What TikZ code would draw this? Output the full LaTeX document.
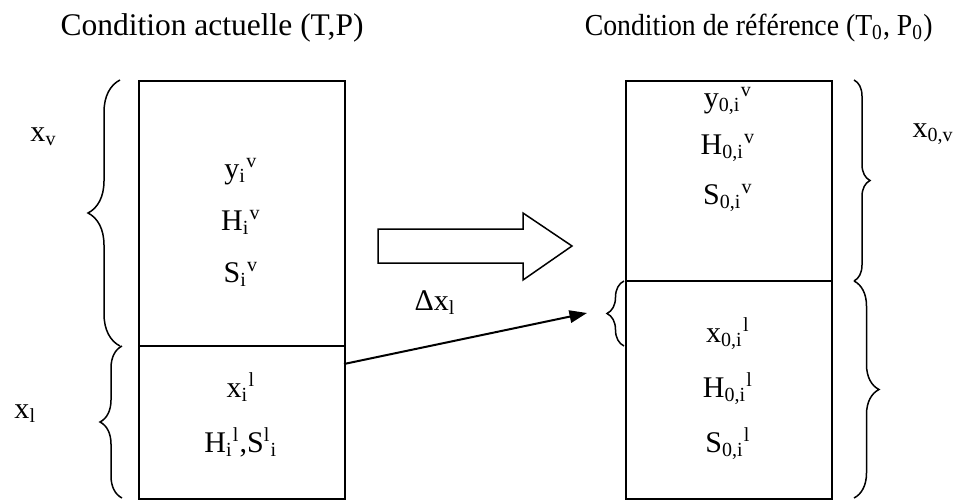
\documentclass[tikz,border=0pt]{standalone}
\usepackage{fontspec}
\setmainfont{Liberation Serif}
\usetikzlibrary{arrows.meta,decorations.pathreplacing}

\tikzset{
  column/.style={draw, line width=0.8pt, minimum width=82.4pt, minimum height=167.2pt, inner sep=0pt, anchor=north west},
  lbl/.style={inner sep=0pt, anchor=base},
  brc/.style={decorate, decoration={brace, amplitude=#1}, line width=0.6pt}
}

\begin{document}
\begin{tikzpicture}[x=0.4pt,y=-0.4pt,font=\fontsize{12}{14}\selectfont]
\useasboundingbox (0,0) rectangle (954,500);
% titles
\node[inner sep=0pt, anchor=base west, font=\fontsize{12.6}{14}\selectfont] (titleA) at (60,35) {Condition actuelle (T,P)};
\node[inner sep=0pt, anchor=base east, font=\fontsize{12.2}{14}\selectfont] (titleB) at (933,35) {\scalebox{0.91}[1]{Condition de référence (T\textsubscript{0}, P\textsubscript{0})}};
% current state
\node[column] (cur) at (138,80) {};
\draw[line width=0.6pt] (138,346) -- (344,346);
\node[lbl] (yv) at (241,178) {y\textsubscript{i}\textsuperscript{v}};
\node[lbl] (Hv) at (241,230) {H\textsubscript{i}\textsuperscript{v}};
\node[lbl] (Sv) at (241,282) {S\textsubscript{i}\textsuperscript{v}};
\node[lbl] (xl) at (241,397) {x\textsubscript{i}\textsuperscript{l}};
\node[lbl] (HSl) at (241,452) {H\textsubscript{i}\textsuperscript{l},S\textsuperscript{l}\textsubscript{i}};
% reference state
\node[column] (ref) at (625,80) {};
\draw[line width=0.6pt] (625,281) -- (831,281);
\node[lbl] (yvo) at (728,107) {y\textsubscript{0,i}\textsuperscript{v}};
\node[lbl] (Hvo) at (728,154) {H\textsubscript{0,i}\textsuperscript{v}};
\node[lbl] (Svo) at (728,204) {S\textsubscript{0,i}\textsuperscript{v}};
\node[lbl] (xlo) at (728,342) {x\textsubscript{0,i}\textsuperscript{l}};
\node[lbl] (Hlo) at (728,397) {H\textsubscript{0,i}\textsuperscript{l}};
\node[lbl] (Slo) at (728,452) {S\textsubscript{0,i}\textsuperscript{l}};
% braces
\draw[brc=12.8pt] (120,346) -- (120,80);
\draw[brc=8.8pt] (122,498) -- (122,346);
\draw[brc=6.4pt] (854,80) -- (854,281);
\draw[brc=10pt] (854,281) -- (854,498);
\draw[brc=6.8pt] (624,346) -- (624,281);
\node[inner sep=0pt, anchor=base west] (xv) at (30,141) {x\textsubscript{v}};
\node[inner sep=0pt, anchor=base west] (xlq) at (14,418) {x\textsubscript{l}};
\node[inner sep=0pt, anchor=base west] (xvo) at (912,137) {x\textsubscript{0,v}};
% transfer
\draw[line width=0.6pt] (378,229) -- (523,229) -- (523,213) -- (572,246) -- (523,280) -- (523,263) -- (378,263) -- cycle;
\coordinate (from) at (344,364);
\coordinate (to) at (587,313);
\draw[line width=0.8pt,-{Triangle[length=7pt,width=5pt]}] (from) -- (to);
\node[inner sep=0pt, anchor=base west] (dx) at (414,310) {Δx\textsubscript{l}};
\end{tikzpicture}
\end{document}
